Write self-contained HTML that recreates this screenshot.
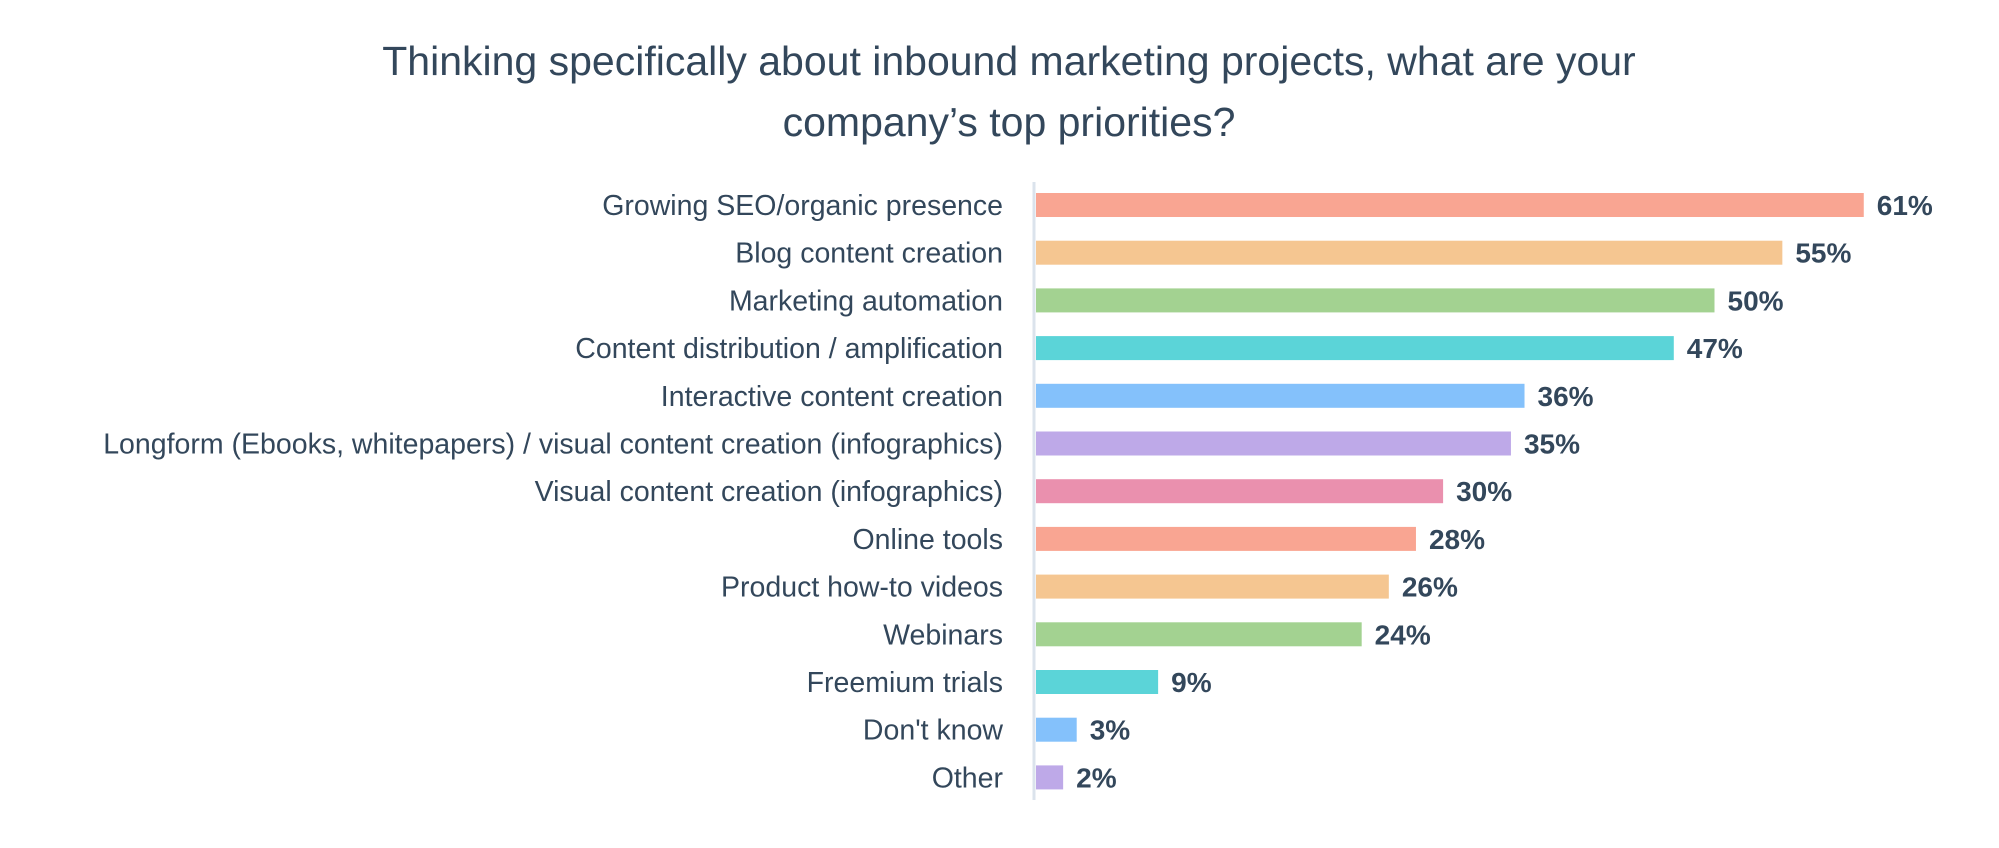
<!DOCTYPE html>
<html><head><meta charset="utf-8"><style>
body{margin:0;background:#fff;width:1999px;height:848px;overflow:hidden;font-family:"Liberation Sans",sans-serif;}
#title{position:absolute;left:0;width:2018px;top:31px;text-align:center;font-size:41px;line-height:61px;color:#33475b;}
svg{position:absolute;left:0;top:0;}
</style></head><body>
<div id="title">Thinking specifically about inbound marketing projects, what are your<br>company’s top priorities?</div>
<svg id="chart" width="1999" height="848"></svg>
<script>
const categories=["Growing SEO/organic presence","Blog content creation","Marketing automation","Content distribution / amplification","Interactive content creation","Longform (Ebooks, whitepapers) / visual content creation (infographics)","Visual content creation (infographics)","Online tools","Product how-to videos","Webinars","Freemium trials","Don't know","Other"];
const values=[61,55,50,47,36,35,30,28,26,24,9,3,2];
const colors=["#f9a592","#f5c691","#a3d291","#5bd4d8","#84c1fb","#bea9e8","#ea90ae","#f9a592","#f5c691","#a3d291","#5bd4d8","#84c1fb","#bea9e8"];
const NS="http://www.w3.org/2000/svg";
const svg=document.getElementById('chart');
const x0=1036,pxPer=13.57,y0=193,step=47.7,bh=24;
const xs=v=>x0+v*pxPer, ys=i=>y0+i*step;
function mk(t,a){const e=document.createElementNS(NS,t);for(const k in a)e.setAttribute(k,a[k]);svg.appendChild(e);return e;}
const ax=mk('line',{x1:1034,x2:1034,y1:182,y2:800,stroke:'#dbe3ec','stroke-width':3});


categories.forEach((c,i)=>{
  const y=ys(i);
  const r=mk('rect',{x:x0,y:y,width:xs(values[i])-x0,height:bh,fill:colors[i]});
  
  
  const l=mk('text',{x:1003,y:y+bh/2+10,'text-anchor':'end','font-size':28.5,fill:'#33475b','font-family':'Liberation Sans, sans-serif'});
  l.textContent=c;
  
  
  const v=mk('text',{x:xs(values[i])+13,y:y+bh/2+10,'font-size':28,'font-weight':'bold',fill:'#33475b','font-family':'Liberation Sans, sans-serif'});
  v.textContent=values[i]+'%';
  
  
});
</script>
</body></html>
